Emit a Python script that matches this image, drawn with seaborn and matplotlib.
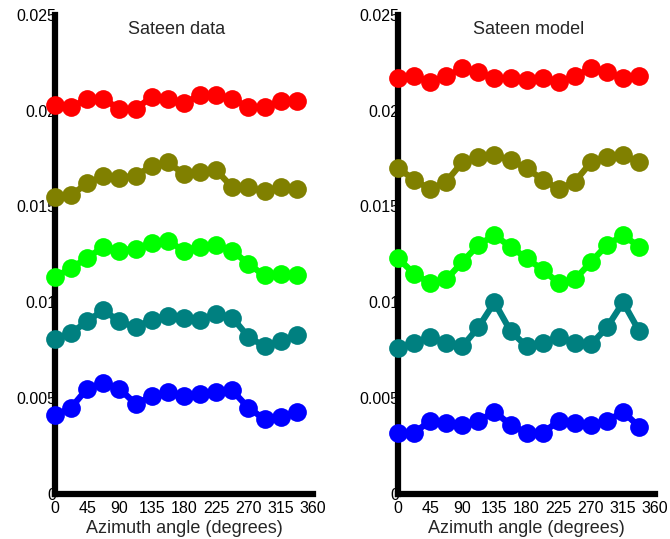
import matplotlib
matplotlib.use("Agg")
import matplotlib.pyplot as plt
import seaborn as sns
import numpy as np

sns.set_style("white")
plt.rcParams['font.family'] = ['Liberation Sans', 'DejaVu Sans']

angles = [0, 22.5, 45, 67.5, 90, 112.5, 135, 157.5, 180, 202.5, 225, 247.5, 270, 292.5, 315, 337.5]

data_red = [0.0203, 0.0202, 0.0206, 0.0206, 0.0201, 0.0201, 0.0207, 0.0206, 0.0204, 0.0208, 0.0208, 0.0206, 0.0202, 0.0202, 0.0205, 0.0205]
data_olive = [0.0155, 0.0156, 0.0162, 0.0166, 0.0165, 0.0166, 0.0171, 0.0173, 0.0167, 0.0168, 0.0169, 0.0160, 0.0160, 0.0158, 0.0160, 0.0159]
data_green = [0.0113, 0.0118, 0.0123, 0.0129, 0.0127, 0.0128, 0.0131, 0.0132, 0.0127, 0.0129, 0.0130, 0.0127, 0.0120, 0.0114, 0.0115, 0.0114]
data_teal = [0.0081, 0.0084, 0.0090, 0.0096, 0.0090, 0.0087, 0.0091, 0.0093, 0.0092, 0.0091, 0.0094, 0.0092, 0.0082, 0.0077, 0.0080, 0.0083]
data_blue = [0.0041, 0.0045, 0.0055, 0.0058, 0.0055, 0.0047, 0.0051, 0.0053, 0.0051, 0.0052, 0.0053, 0.0054, 0.0045, 0.0039, 0.0040, 0.0043]

model_red = [0.0217, 0.0218, 0.0215, 0.0218, 0.0222, 0.0220, 0.0217, 0.0217, 0.0216, 0.0217, 0.0215, 0.0218, 0.0222, 0.0220, 0.0217, 0.0218]
model_olive = [0.0170, 0.0164, 0.0159, 0.0163, 0.0173, 0.0176, 0.0177, 0.0174, 0.0170, 0.0164, 0.0159, 0.0163, 0.0173, 0.0176, 0.0177, 0.0173]
model_green = [0.0123, 0.0115, 0.0110, 0.0112, 0.0121, 0.0130, 0.0135, 0.0129, 0.0123, 0.0117, 0.0110, 0.0112, 0.0121, 0.0130, 0.0135, 0.0129]
model_teal = [0.0076, 0.0079, 0.0082, 0.0079, 0.0077, 0.0087, 0.0100, 0.0085, 0.0077, 0.0079, 0.0082, 0.0079, 0.0078, 0.0087, 0.0100, 0.0085]
model_blue = [0.0032, 0.0032, 0.0038, 0.0037, 0.0036, 0.0038, 0.0043, 0.0036, 0.0032, 0.0032, 0.0038, 0.0037, 0.0036, 0.0038, 0.0043, 0.0035]

colors = ['#ff0000', '#808000', '#00ff00', '#008080', '#0000ff']
titles = ['Sateen data', 'Sateen model']
xticks = [0, 45, 90, 135, 180, 225, 270, 315, 360]
yticks = [0, 0.005, 0.01, 0.015, 0.02, 0.025]
ytick_labels = ['0', '0.005', '0.01', '0.015', '0.02', '0.025']

panels = [
    [data_red, data_olive, data_green, data_teal, data_blue],
    [model_red, model_olive, model_green, model_teal, model_blue],
]

fig = plt.figure(figsize=(6.7, 5.39), dpi=100)
ax_pos = [[0.082, 0.0835, 0.385, 0.889], [0.594, 0.0835, 0.384, 0.889]]
title_x = [0.473, 0.506]

for i, series in enumerate(panels):
    ax = fig.add_axes(ax_pos[i])
    for vals, c in zip(series, colors):
        sns.lineplot(x=angles, y=vals, ax=ax, color=c, marker='o', markersize=13.5,
                     linewidth=4.5, markeredgecolor=c, markeredgewidth=0,
                     clip_on=False, zorder=5, legend=False)
    ax.set_xlim(0, 360)
    ax.set_ylim(0, 0.025)
    ax.set_xticks(xticks)
    ax.set_xticklabels([str(t) for t in xticks])
    ax.set_yticks(yticks)
    ax.set_yticklabels(ytick_labels)
    for s in ['top', 'right']:
        ax.spines[s].set_visible(False)
    for s in ['left', 'bottom']:
        ax.spines[s].set_linewidth(4.5)
        ax.spines[s].set_color('black')
        ax.spines[s].set_zorder(3)
    ax.tick_params(axis='both', direction='in', length=4, width=4, colors='black',
                   labelsize=11.5)
    ax.tick_params(axis='x', pad=5)
    ax.tick_params(axis='y', pad=-1)
    ax.set_xlabel('Azimuth angle (degrees)', fontsize=13, labelpad=3)
    ax.set_ylabel('')
    ax.text(title_x[i], 0.97, titles[i], transform=ax.transAxes, ha='center',
            va='center', fontsize=13)
    ax.grid(False)

fig.savefig('out.png', dpi=100)
